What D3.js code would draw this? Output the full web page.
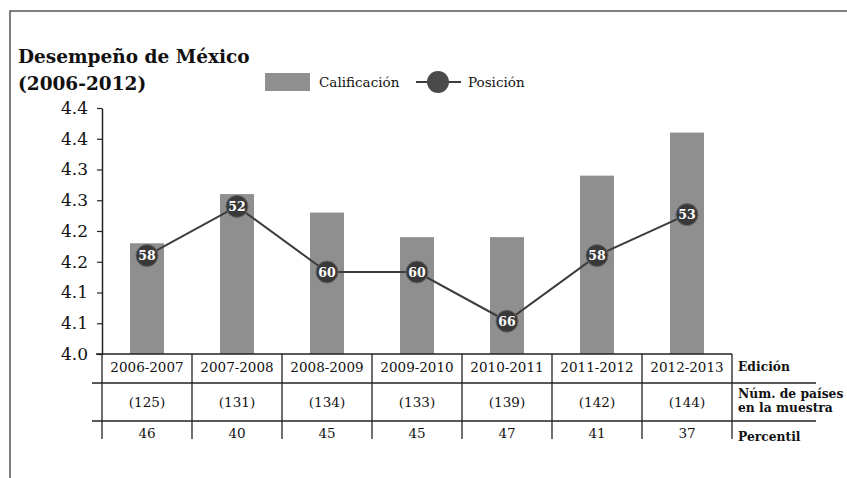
<!DOCTYPE html>
<html>
<head>
<meta charset="utf-8">
<script src="https://cdn.jsdelivr.net/npm/d3@7"></script>
<style>
  body { margin: 0; background: #fff; }
  text { font-family: "DejaVu Serif", serif; }
</style>
</head>
<body>
<svg id="chart" width="847" height="478"></svg>
<script>
// data
const editions = ["2006-2007", "2007-2008", "2008-2009", "2009-2010", "2010-2011", "2011-2012", "2012-2013"];
const scores = [4.18, 4.26, 4.23, 4.19, 4.19, 4.29, 4.36];
const ranks = [58, 52, 60, 60, 66, 58, 53];
const countries = ["(125)", "(131)", "(134)", "(133)", "(139)", "(142)", "(144)"];
const percentiles = ["46", "40", "45", "45", "47", "41", "37"];
const yTicks = [4.0, 4.05, 4.1, 4.15, 4.2, 4.25, 4.3, 4.35, 4.4];
const yTickLabels = ["4.0", "4.1", "4.1", "4.2", "4.2", "4.3", "4.3", "4.4", "4.4"];

const svg = d3.select("#chart");
const plotLeft = 102, plotRight = 732, plotTop = 108, plotBottom = 354;
const ink = "#222";

// outer frame (top + left only)
svg.append("path")
    .attr("d", "M10,478 V11 H847")
    .attr("fill", "none")
    .attr("stroke", "#555")
    .attr("stroke-width", 1.5);

// title
svg.append("text").attr("x", 18).attr("y", 63)
    .attr("font-size", 18.5).attr("font-weight", "bold").attr("fill", "#111")
    .text("Desempeño de México");
svg.append("text").attr("x", 18).attr("y", 90)
    .attr("font-size", 18.5).attr("font-weight", "bold").attr("fill", "#111")
    .text("(2006-2012)");

// scales
const x = d3.scaleBand().domain(editions).range([plotLeft, plotRight])
    .paddingInner(0.622).paddingOuter(0.311);
const col = d3.scaleBand().domain(editions).range([plotLeft, plotRight]).padding(0);
const y = d3.scaleLinear().domain([4.0, 4.4]).range([plotBottom, plotTop]);
const yRank = d3.scaleLinear().domain([40, 70]).range([plotTop, plotBottom]);

// bars
svg.append("g").selectAll("rect")
    .data(scores)
    .join("rect")
    .attr("x", (d, i) => x(editions[i]))
    .attr("width", x.bandwidth())
    .attr("y", d => y(d))
    .attr("height", d => plotBottom - y(d))
    .attr("fill", "#8f8f8f");

// y axis
const yAxis = svg.append("g")
    .attr("transform", `translate(${plotLeft},0)`)
    .call(d3.axisLeft(y).tickValues(yTicks)
        .tickFormat((d, i) => yTickLabels[i])
        .tickSize(5).tickPadding(9).tickSizeOuter(0));
yAxis.select(".domain").attr("stroke", ink).attr("stroke-width", 1.5);
yAxis.selectAll(".tick line").attr("stroke", ink).attr("stroke-width", 1.2);
yAxis.selectAll(".tick text")
    .attr("font-family", "DejaVu Serif").attr("font-size", 17).attr("fill", "#111");

// line for ranks
const cx = (d, i) => x(editions[i]) + x.bandwidth() / 2;
svg.append("path")
    .datum(ranks)
    .attr("fill", "none")
    .attr("stroke", "#3c3c3c")
    .attr("stroke-width", 2)
    .attr("d", d3.line().x(cx).y(d => yRank(d)));

const dots = svg.append("g").selectAll("g")
    .data(ranks)
    .join("g")
    .attr("transform", (d, i) => `translate(${cx(d, i)},${yRank(d)})`);
dots.append("circle").attr("r", 11)
    .attr("fill", "#393939").attr("stroke", "#666").attr("stroke-width", 1);
dots.append("text")
    .attr("text-anchor", "middle").attr("dy", "0.36em")
    .attr("font-size", 12.5).attr("font-weight", "bold").attr("fill", "#fff")
    .text(d => d);

// legend
const legend = svg.append("g");
legend.append("rect").attr("x", 265).attr("y", 73).attr("width", 45).attr("height", 18).attr("fill", "#8f8f8f");
legend.append("text").attr("x", 319).attr("y", 87).attr("font-size", 13.5).attr("fill", "#111").text("Calificación");
legend.append("line").attr("x1", 416).attr("x2", 461).attr("y1", 82).attr("y2", 82)
    .attr("stroke", "#3c3c3c").attr("stroke-width", 2);
legend.append("circle").attr("cx", 438).attr("cy", 82).attr("r", 11).attr("fill", "#4a4a4a");
legend.append("text").attr("x", 468).attr("y", 87).attr("font-size", 13.5).attr("fill", "#111").text("Posición");

// table under the chart
const table = svg.append("g").attr("stroke", ink).attr("stroke-width", 1.3);
const rowTop = [354, 383, 421];
const tableBottom = 439;
table.append("line").attr("x1", 96).attr("x2", plotRight).attr("y1", rowTop[0]).attr("y2", rowTop[0]).attr("stroke-width", 1.5);
[rowTop[1], rowTop[2]].forEach(v => {
    table.append("line").attr("x1", 92).attr("x2", 816).attr("y1", v).attr("y2", v);
});
const colEdges = editions.map(e => col(e)).concat([plotRight]);
table.selectAll(".vline")
    .data(colEdges)
    .join("line")
    .attr("class", "vline")
    .attr("x1", d => d).attr("x2", d => d)
    .attr("y1", rowTop[0]).attr("y2", tableBottom);

const rows = [
    { values: editions, y: 372 },
    { values: countries, y: 407 },
    { values: percentiles, y: 438 }
];
rows.forEach(r => {
    svg.append("g").selectAll("text")
        .data(r.values)
        .join("text")
        .attr("x", (d, i) => col(editions[i]) + col.bandwidth() / 2)
        .attr("y", r.y)
        .attr("text-anchor", "middle")
        .attr("font-size", 13.5)
        .attr("fill", "#111")
        .text(d => d);
});

// row labels
const rowLabels = [
    { text: "Edición", y: 371 },
    { text: "Núm. de países", y: 398 },
    { text: "en la muestra", y: 412 },
    { text: "Percentil", y: 441 }
];
svg.append("g").selectAll("text")
    .data(rowLabels)
    .join("text")
    .attr("x", 738)
    .attr("y", d => d.y)
    .attr("font-size", 12.3)
    .attr("font-weight", "bold")
    .attr("fill", "#111")
    .text(d => d.text);
</script>
</body>
</html>
